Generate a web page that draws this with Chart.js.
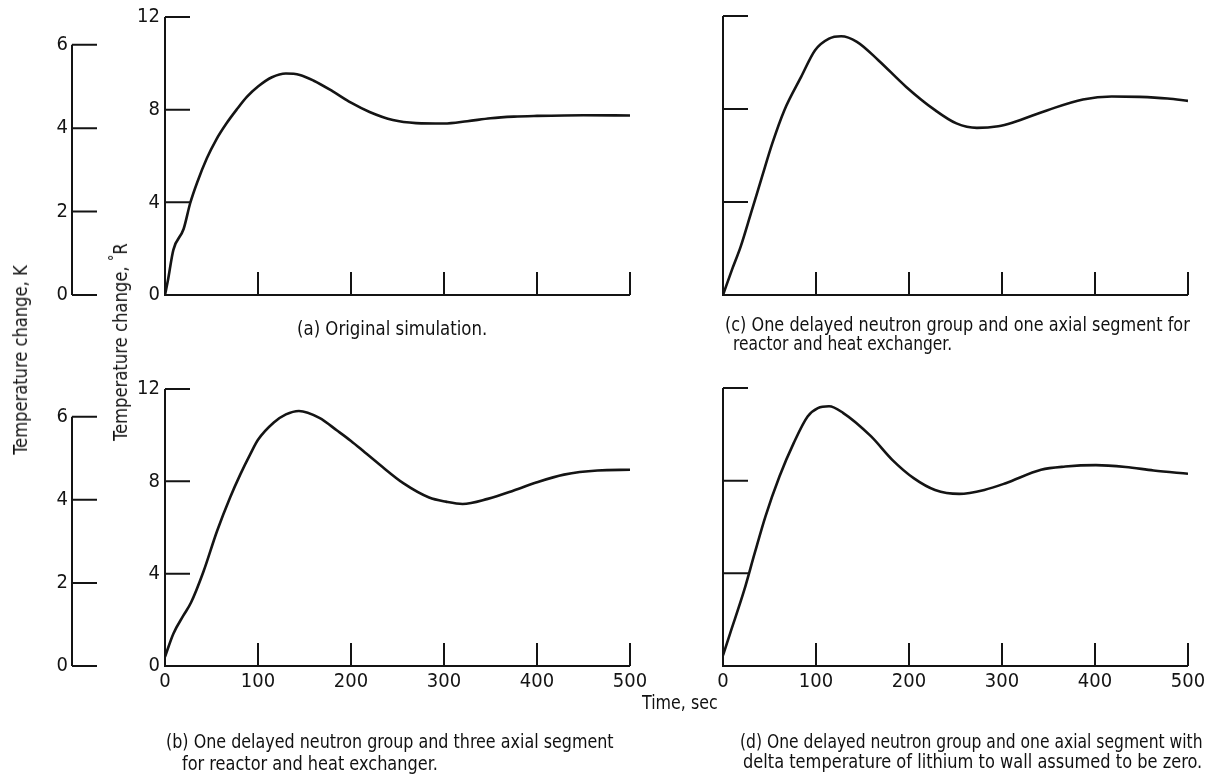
<!DOCTYPE html>
<html>
<head>
<meta charset="utf-8">
<script src="https://cdn.jsdelivr.net/npm/chart.js@4/dist/chart.umd.min.js"></script>
<style>
  html, body { margin: 0; padding: 0; background: #fff; }
  #page { position: relative; width: 1213px; height: 784px; overflow: hidden; background: #fff;
          font-family: "Liberation Sans Narrow", "DejaVu Sans Condensed", "Liberation Sans", sans-serif; color: #111; }
  canvas { position: absolute; }
  .txt { position: absolute; white-space: nowrap; font-size: 19.5px; line-height: 22px; transform-origin: 0 50%; }
  .vt { position: absolute; white-space: nowrap; font-size: 19px; line-height: 22px; }
  .deg { position: relative; top: -0.45em; font-size: 0.8em; }
</style>
</head>
<body>
<div id="page">
  <canvas id="chartA" width="660" height="330" style="left:0;top:0"></canvas>
  <canvas id="chartC" width="553" height="330" style="left:660px;top:0"></canvas>
  <canvas id="chartB" width="660" height="412" style="left:0;top:372px"></canvas>
  <canvas id="chartD" width="553" height="412" style="left:660px;top:372px"></canvas>

  <div class="vt" data-w="189" style="left:20px;top:360px">Temperature change, K</div>
  <div class="vt" data-w="198" style="left:121px;top:342px">Temperature change, <span class="deg">°</span>R</div>
  <div class="txt" data-w="76" style="left:642px;top:692px">Time, sec</div>

  <div class="txt" data-w="190" style="left:297px;top:318px">(a) Original simulation.</div>
  <div class="txt" data-w="465" style="left:725px;top:314px">(c) One delayed neutron group and one axial segment for</div>
  <div class="txt" data-w="219" style="left:733px;top:333px">reactor and heat exchanger.</div>
  <div class="txt" data-w="447" style="left:166px;top:731px">(b) One delayed neutron group and three axial segment</div>
  <div class="txt" data-w="256" style="left:182px;top:753px">for reactor and heat exchanger.</div>
  <div class="txt" data-w="463" style="left:740px;top:731px">(d) One delayed neutron group and one axial segment with</div>
  <div class="txt" data-w="459" style="left:743px;top:751px">delta temperature of lithium to wall assumed to be zero.</div>
</div>
<script>
// Tick values
const timeTicks = [0, 100, 200, 300, 400, 500];
const rankineTicks = [0, 4, 8, 12];
const kelvinTicks = [0, 2, 4, 6];

// (a) Original simulation
const timeA = [0, 3, 9, 20, 27, 35, 45, 55, 66, 77, 88, 100, 115, 130, 145, 160, 180, 200, 220, 245, 270, 300, 325, 350, 375, 400, 450, 500];
const tempA = [0, 0.6, 1.95, 2.85, 3.95, 4.9, 5.9, 6.7, 7.4, 8.0, 8.55, 9.0, 9.4, 9.56, 9.5, 9.25, 8.8, 8.3, 7.9, 7.55, 7.42, 7.4, 7.5, 7.63, 7.7, 7.73, 7.76, 7.75];

// (b) one delayed group, three axial segments
const timeB = [0, 9, 20, 28, 41, 56, 70, 81, 92, 100, 117, 130, 144, 166, 185, 200, 215, 230, 257, 284, 302, 320, 347, 375, 400, 429, 465, 500];
const tempB = [0.4, 1.4, 2.2, 2.75, 4.05, 5.85, 7.3, 8.3, 9.2, 9.8, 10.55, 10.9, 11.05, 10.75, 10.2, 9.75, 9.25, 8.75, 7.9, 7.3, 7.12, 7.02, 7.24, 7.6, 7.96, 8.29, 8.47, 8.5];

// (c) one delayed group, one axial segment
const timeC = [0, 9.5, 19, 30, 42, 53, 66, 84, 99, 114, 127, 144, 167, 197, 228, 251, 273, 296, 311, 349, 387, 418, 448, 478, 500];
const tempC = [0, 1.07, 2.08, 3.51, 5.09, 6.52, 7.95, 9.38, 10.53, 11.03, 11.13, 10.89, 10.1, 8.95, 7.95, 7.38, 7.19, 7.26, 7.41, 7.95, 8.41, 8.54, 8.52, 8.45, 8.35];

// (d) one axial segment, lithium-to-wall delta T zero
const timeD = [0, 7.6, 22.8, 34, 45.6, 60.7, 76, 91, 102, 114, 129, 159, 182, 205, 228, 254, 281, 304, 342, 368, 401, 433, 463, 500];
const tempD = [0.46, 1.4, 3.27, 4.86, 6.45, 8.18, 9.62, 10.77, 11.13, 11.21, 10.93, 9.92, 8.9, 8.11, 7.6, 7.43, 7.6, 7.89, 8.47, 8.61, 8.67, 8.59, 8.44, 8.3];

const INK = '#141414';
const FONT = '"Liberation Sans Narrow", "DejaVu Sans Condensed", "Liberation Sans", sans-serif';
const R_PER_K = 1.8;

// squeeze the captions to the width they have in the original figure
document.querySelectorAll('[data-w]').forEach(el => {
  const s = (+el.dataset.w / el.offsetWidth).toFixed(3);
  el.style.transform = el.classList.contains('vt')
    ? `translate(-50%, -50%) rotate(-90deg) scaleX(${s})`
    : `scaleX(${s})`;
});

// axis lines and inward tick marks, drawn from the chart's own scales
const frame = {
  id: 'frame',
  afterDatasetsDraw(chart) {
    const { ctx, chartArea: a, scales } = chart;
    const x = scales.x, y = scales.y, k = scales.k;
    ctx.save();
    ctx.strokeStyle = INK;
    ctx.lineWidth = 2;
    ctx.beginPath();
    const yTop = y.getPixelForValue(rankineTicks[rankineTicks.length - 1]);
    const xEnd = x.getPixelForValue(timeTicks[timeTicks.length - 1]);
    ctx.moveTo(a.left, yTop);
    ctx.lineTo(a.left, a.bottom);
    ctx.lineTo(xEnd, a.bottom);
    rankineTicks.forEach(v => {
      if (v === 0) return;
      const py = y.getPixelForValue(v);
      ctx.moveTo(a.left, py);
      ctx.lineTo(a.left + 25, py);
    });
    timeTicks.forEach(v => {
      if (v === 0) return;
      const px = x.getPixelForValue(v);
      ctx.moveTo(px, a.bottom);
      ctx.lineTo(px, a.bottom - 23);
    });
    if (k) {
      const kx = k.right;
      ctx.moveTo(kx, k.getPixelForValue(kelvinTicks[kelvinTicks.length - 1]));
      ctx.lineTo(kx, k.getPixelForValue(0));
      kelvinTicks.forEach(v => {
        const py = k.getPixelForValue(v);
        ctx.moveTo(kx, py);
        ctx.lineTo(kx + 25, py);
      });
    }
    ctx.stroke();
    ctx.restore();
  }
};

function makePanel(id, times, temps, opts) {
  const setTicks = arr => scale => { scale.ticks = arr.map(v => ({ value: v })); };
  const noGrid = { display: false, drawTicks: false };
  const tickFont = { family: FONT, size: 20 };
  const scales = {
    x: {
      type: 'linear', min: 0, max: 500,
      afterBuildTicks: setTicks(timeTicks),
      grid: noGrid, border: { display: false },
      ticks: { display: opts.xLabels, color: INK, padding: 4, maxRotation: 0, font: tickFont },
      afterFit: s => { s.height = opts.xHeight; }
    },
    y: {
      type: 'linear', position: 'left', min: 0, max: 12, weight: 0,
      afterBuildTicks: setTicks(rankineTicks),
      grid: noGrid, border: { display: false },
      ticks: { display: opts.yLabels, color: INK, padding: 5, font: tickFont },
      afterFit: s => { s.width = opts.yWidth; }
    }
  };
  if (opts.kelvin) {
    scales.k = {
      type: 'linear', position: 'left', min: 0, max: 12 / R_PER_K, weight: 1,
      afterBuildTicks: setTicks(kelvinTicks),
      grid: noGrid, border: { display: false },
      ticks: { color: INK, padding: 4, font: tickFont },
      afterFit: s => { s.width = 72; }
    };
  }
  return new Chart(document.getElementById(id), {
    type: 'line',
    data: {
      datasets: [{
        data: times.map((t, i) => ({ x: t, y: temps[i] })),
        borderColor: INK,
        borderWidth: 2.6,
        pointRadius: 0,
        fill: false,
        cubicInterpolationMode: 'monotone'
      }]
    },
    options: {
      responsive: false,
      animation: false,
      layout: { padding: { top: 16, right: opts.right, left: 0, bottom: 0 } },
      plugins: { legend: { display: false }, tooltip: { enabled: false } },
      scales
    },
    plugins: [frame]
  });
}

makePanel('chartA', timeA, tempA, { kelvin: true, yLabels: true, yWidth: 93, xLabels: false, xHeight: 35, right: 30 });
makePanel('chartC', timeC, tempC, { kelvin: false, yLabels: false, yWidth: 63, xLabels: false, xHeight: 35, right: 25 });
makePanel('chartB', timeB, tempB, { kelvin: true, yLabels: true, yWidth: 93, xLabels: true, xHeight: 118, right: 30 });
makePanel('chartD', timeD, tempD, { kelvin: false, yLabels: false, yWidth: 63, xLabels: true, xHeight: 118, right: 25 });
</script>
</body>
</html>
